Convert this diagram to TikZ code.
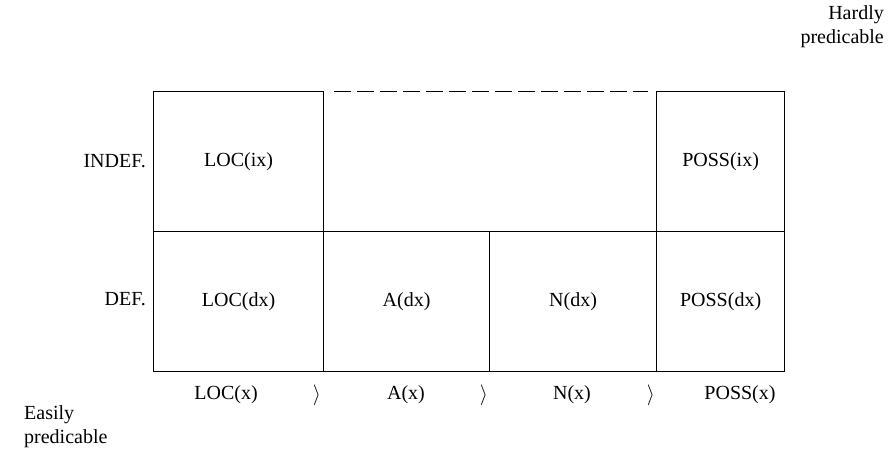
\documentclass[tikz,border=0pt]{standalone}
\usepackage{fontspec}
\setmainfont{Liberation Serif}
\begin{document}
\begin{tikzpicture}[x=1pt,y=-1pt,
  txt/.style={font=\fontsize{20}{24}\selectfont, inner sep=0pt},
  cell/.style={txt, draw, line width=1.2pt, anchor=north west, minimum height=140pt},
  gap/.style={line width=0.9pt, dash pattern=on 17pt off 6pt}]
  \useasboundingbox (0,0) rectangle (894,452);

  % upper row (indefinite)
  \node[cell, minimum width=170pt] (locix)  at (153,91)  {LOC(ix)};
  \node[cell, minimum width=128pt] (possix) at (656,91)  {POSS(ix)};
  \draw[gap] ([xshift=10pt]locix.north east) -- ([xshift=-8pt]possix.north west);

  % lower row (definite)
  \node[cell, minimum width=170pt] (locdx)  at (153,231) {LOC(dx)};
  \node[cell, minimum width=166pt] (adx)    at (323,231) {A(dx)};
  \node[cell, minimum width=167pt] (ndx)    at (489,231) {N(dx)};
  \node[cell, minimum width=128pt] (possdx) at (656,231) {POSS(dx)};

  % row labels
  \node[txt, anchor=east] (indef) at (146,161) {INDEF.};
  \node[txt, anchor=east] (def)   at (146,299) {DEF.};

  % ordering along the bottom
  \node[txt] (locx)  at (226,395) {LOC(x)};
  \node[txt] (gt1)   at (317,395) {$\rangle$};
  \node[txt] (ax)    at (406,395) {A(x)};
  \node[txt] (gt2)   at (484,395) {$\rangle$};
  \node[txt] (nx)    at (572,395) {N(x)};
  \node[txt] (gt3)   at (651,395) {$\rangle$};
  \node[txt] (possx) at (740,395) {POSS(x)};

  % scale ends
  \node[txt, align=right, anchor=north east] (hardly) at (884,5) {Hardly\\predicable};
  \node[txt, align=left, anchor=north west] (easily) at (24,405) {Easily\\predicable};
\end{tikzpicture}
\end{document}
